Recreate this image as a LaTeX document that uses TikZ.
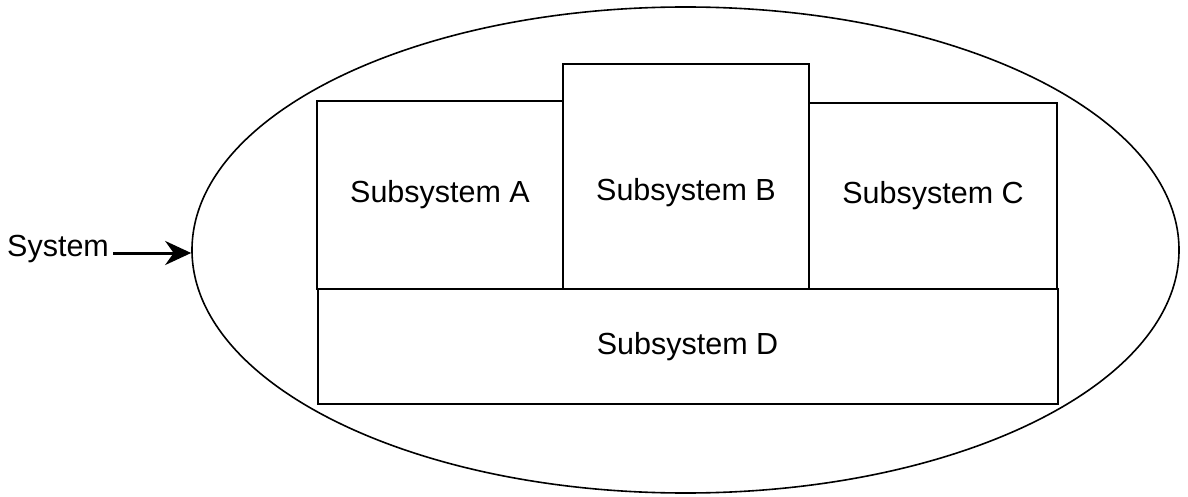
\documentclass[tikz,border=0pt]{standalone}
\usepackage{fontspec}
\setmainfont{Liberation Sans}
\usetikzlibrary{shapes.geometric,arrows.meta}
\begin{document}
\begin{tikzpicture}[x=1pt,y=-1pt,
  lbl/.style={font=\fontsize{30.5}{34}\selectfont},
  sub/.style={draw,line width=2pt,inner sep=0pt,lbl},
]
\useasboundingbox (0,0) rectangle (1188,497);
\node[draw,ellipse,line width=1.6pt,inner sep=0pt,minimum width=987pt,minimum height=486pt] (ell) at (685.5,250) {};
\node[sub,minimum width=246pt,minimum height=188pt] (A) at (440,195) {Subsystem A};
\node[sub,minimum width=246pt,minimum height=225pt] (B) at (686,176.5) {};
\node[lbl,inner sep=0pt] (Bt) at (686,193) {Subsystem B};
\node[sub,minimum width=248pt,minimum height=186pt] (C) at (933,196) {Subsystem C};
\node[sub,minimum width=740pt,minimum height=115pt] (D) at (687.5,346.5) {Subsystem D};
\node[lbl,anchor=base west,inner sep=0pt] (sys) at (7,256) {System};
\coordinate (s0) at (113,253);
\draw[line width=3pt,-{Stealth[length=26pt,width=24pt]}] (s0) -- (s0 -| ell.west);
\end{tikzpicture}
\end{document}
